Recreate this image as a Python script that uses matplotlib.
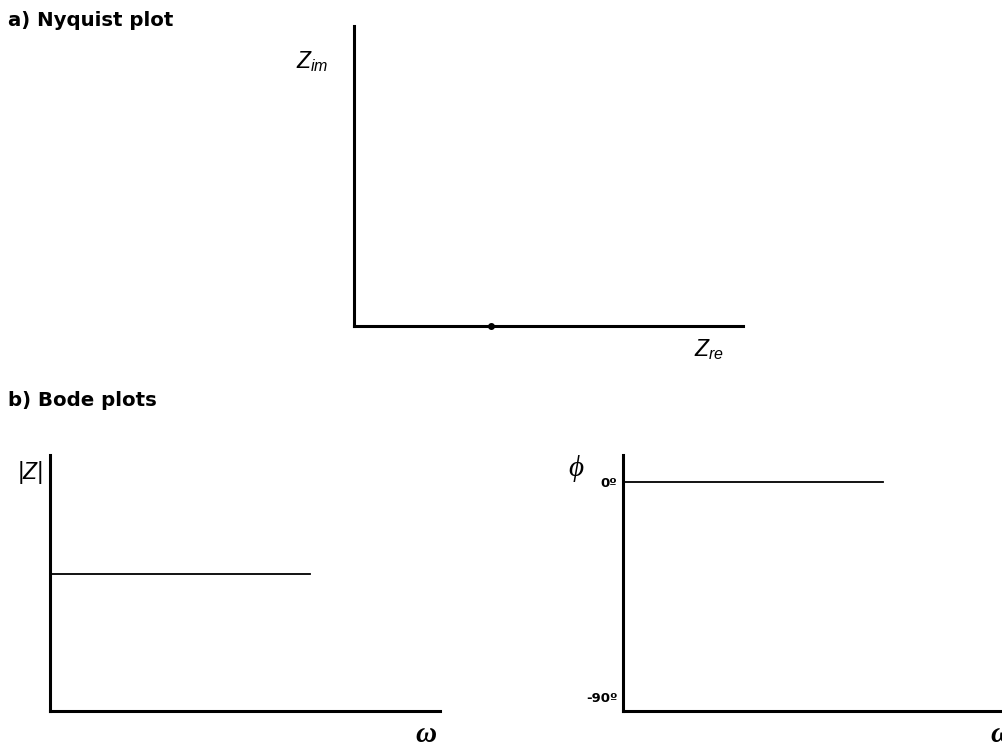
import matplotlib
matplotlib.use("Agg")
import matplotlib.pyplot as plt

plt.rcParams["font.family"] = ["Liberation Sans", "DejaVu Sans"]
plt.rcParams["mathtext.fontset"] = "custom"
plt.rcParams["mathtext.rm"] = "Liberation Sans"
plt.rcParams["mathtext.it"] = "Liberation Sans:italic"

# Ideal resistor: Z = R at every frequency
R = 1.0
nyq_re = [R]
nyq_im = [0.0]
omega = [1e-2, 1e2]
mag = [R, R]
phase = [0.0, 0.0]
phase_ticks = [0, -90]
phase_tick_labels = ["0º", "-90º"]

W, H = 1003, 747
fig = plt.figure(figsize=(W / 100, H / 100), dpi=100)

wide_bold = ["DejaVu Sans"]
serif = ["Liberation Serif", "DejaVu Serif"]


def px_axes(x0, y_top, x1, y_bot):
    return fig.add_axes([x0 / W, 1 - y_bot / H, (x1 - x0) / W, (y_bot - y_top) / H])


def bare(ax, lw=2.2):
    for side in ("top", "right"):
        ax.spines[side].set_visible(False)
    for side in ("left", "bottom"):
        ax.spines[side].set_linewidth(lw)
    ax.set_xticks([])
    ax.set_yticks([])
    ax.patch.set_alpha(0)


def ftext(x, y, s, **kw):
    fig.text(x / W, 1 - y / H, s, **kw)


# a) Nyquist plot
ax1 = px_axes(354, 26, 743, 326)
bare(ax1)
ax1.plot(nyq_re, nyq_im, "o", color="black", ms=4, clip_on=False)
ax1.set_xlim(0, 2.84)
ax1.set_ylim(0, 1)

# b) Bode plots: magnitude
ax2 = px_axes(50, 455, 440, 711)
bare(ax2)
ax2.set_xscale("log")
ax2.plot(omega, mag, color="black", lw=1.3)
ax2.set_xlim(1e-2, 1e4)
ax2.set_ylim(0, 1.87)
ax2.set_xticks([])
ax2.minorticks_off()

# phase
ax3 = px_axes(623, 455, 1013, 711)
bare(ax3)
ax3.set_xscale("log")
ax3.plot(omega, phase, color="black", lw=1.3)
ax3.set_xlim(1e-2, 1e4)
ax3.set_ylim(-95.86, 11.3)
ax3.set_xticks([])
ax3.minorticks_off()
ax3.set_yticks(phase_ticks)
ax3.set_yticklabels(phase_tick_labels, fontsize=9.5, fontweight="bold", family=wide_bold)
ax3.tick_params(axis="y", length=0, pad=4)

# titles and axis labels
ftext(8, 21, "a) Nyquist plot", fontsize=14.2, fontweight="bold", family=wide_bold, va="center")
ftext(8, 401, "b) Bode plots", fontsize=14.2, fontweight="bold", family=wide_bold, va="center")
ftext(312, 62, r"$Z_{im}$", fontsize=16.5, ha="center", va="center")
ftext(709, 350, r"$Z_{re}$", fontsize=16.5, ha="center", va="center")
ftext(31, 472, "|Z|", fontsize=16.5, style="italic", ha="center", va="center")
ftext(426, 735, "ω", fontsize=21, style="italic", fontweight="bold", family=serif,
      ha="center", va="center")
ftext(1001, 735, "ω", fontsize=21, style="italic", fontweight="bold", family=serif,
      ha="center", va="center")
ftext(576, 469, "ϕ", fontsize=21, style="italic", family=serif, ha="center", va="center")

fig.savefig("out.png", dpi=100)
